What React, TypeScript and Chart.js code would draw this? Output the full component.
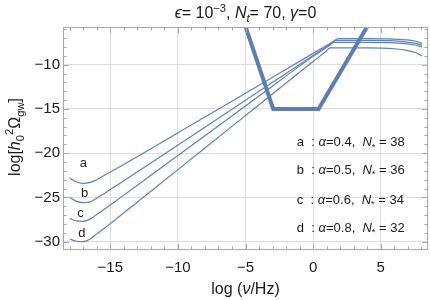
import React, { useEffect, useRef } from "react";
import { Chart, registerables } from "chart.js";
Chart.register(...registerables);

const xTicks = [-15, -10, -5, 0, 5];
const yTicks = [-30, -25, -20, -15, -10];

const curveA: [number, number][] = [
  [-18, -22.8], [-17.5, -23.25], [-17, -23.4], [-16.5, -23.3], [-16, -23.0], [-15.5, -22.55],
  [-15, -22.13], [-14, -21.27], [-12, -19.5], [-8, -15.91], [-4, -12.32], [0, -8.72], [1.55, -7.33],
  [1.85, -7.06], [4, -7.06], [6, -7.1], [7, -7.2], [7.6, -7.35], [8.05, -7.6],
];
const curveB: [number, number][] = [
  [-18, -25.0], [-17.5, -25.45], [-17, -25.58], [-16.5, -25.5], [-16, -25.08], [-15.5, -24.6],
  [-15, -24.11], [-14, -23.11], [-12, -21.1], [-8, -17.06], [-4, -13.01], [0, -8.97], [1.4, -7.55],
  [1.7, -7.25], [4, -7.25], [6, -7.3], [7, -7.45], [7.6, -7.6], [8.05, -7.8],
];
const curveC: [number, number][] = [
  [-18, -27.4], [-17.5, -27.65], [-17, -27.7], [-16.5, -27.45], [-16, -26.92], [-15.5, -26.4],
  [-15, -25.85], [-14, -24.74], [-12, -22.5], [-8, -18.02], [-4, -13.54], [0, -9.06], [1.2, -7.84],
  [1.5, -7.48], [4, -7.48], [6, -7.53], [7, -7.65], [7.6, -7.8], [8.05, -8.0],
];
const curveD: [number, number][] = [
  [-18, -29.7], [-17.5, -29.95], [-17, -30.0], [-16.5, -29.7], [-16, -29.12], [-15.5, -28.55],
  [-15, -27.96], [-14, -26.74], [-12, -24.3], [-8, -19.41], [-4, -14.53], [0, -9.64], [0.96, -8.47],
  [1.26, -8.1], [4, -8.1], [6, -8.2], [7, -8.4], [7.6, -8.65], [8.05, -9.0],
];
const thickX = [-5.37, -2.95, 0.4, 4.66];
const thickY = [-4, -15, -15, -4];

const curveNames = ["a", "b", "c", "d"];
const curveLabelX = [-17.0, -16.9, -17.2, -17.1];
const curveLabelY = [-21.05, -24.45, -26.7, -29.0];
const alphas = ["0.4", "0.5", "0.6", "0.8"];
const nStars = ["38", "36", "34", "32"];
const legendX = -1.2;
const legendY = [-18.7, -21.8, -25.2, -28.4];

const FAM = "'Liberation Sans', Arial, Helvetica, sans-serif";
const BLUE = "#5e81b5";
const FRAME = "#a8a8a8";
const GRID = "#dedede";

type Seg = { t: string; i?: boolean; s?: "sub" | "sup" };

function drawRich(ctx: CanvasRenderingContext2D, segs: Seg[], x: number, y: number, size: number, align: "left" | "center") {
  const fontOf = (s: Seg) => `${s.i ? "italic " : ""}${s.s ? size * 0.7 : size}px ${FAM}`;
  const widths = segs.map((s) => {
    ctx.font = fontOf(s);
    return ctx.measureText(s.t).width;
  });
  const total = widths.reduce((p, c) => p + c, 0);
  let cx = align === "center" ? x - total / 2 : x;
  ctx.textBaseline = "alphabetic";
  ctx.textAlign = "left";
  segs.forEach((s, k) => {
    ctx.font = fontOf(s);
    const dy = s.s === "sub" ? size * 0.25 : s.s === "sup" ? -size * 0.42 : 0;
    ctx.fillText(s.t, cx, y + dy);
    cx += widths[k];
  });
}

const fmt = (v: number) => (v < 0 ? "\u2212" + Math.abs(v) : String(v));

const decor = {
  id: "decor",
  afterDraw(chart: any) {
    const { ctx, chartArea: a, scales } = chart;
    const xs = scales.x;
    const ys = scales.y;
    ctx.save();
    ctx.strokeStyle = FRAME;
    ctx.lineWidth = 1;
    ctx.strokeRect(a.left + 0.5, a.top + 0.5, a.right - a.left - 1, a.bottom - a.top - 1);
    ctx.beginPath();
    for (let v = Math.ceil(xs.min); v <= xs.max; v++) {
      const px = Math.round(xs.getPixelForValue(v)) + 0.5;
      const len = xTicks.includes(v) ? 6 : 3.5;
      ctx.moveTo(px, a.bottom);
      ctx.lineTo(px, a.bottom - len);
      ctx.moveTo(px, a.top);
      ctx.lineTo(px, a.top + len);
    }
    for (let v = Math.ceil(ys.min); v <= ys.max; v++) {
      const py = Math.round(ys.getPixelForValue(v)) + 0.5;
      const len = yTicks.includes(v) ? 6 : 3.5;
      ctx.moveTo(a.left, py);
      ctx.lineTo(a.left + len, py);
      ctx.moveTo(a.right, py);
      ctx.lineTo(a.right - len, py);
    }
    ctx.stroke();

    ctx.fillStyle = "#1a1a1a";
    drawRich(ctx, [
      { t: "\u03f5", i: true }, { t: "= 10" }, { t: "\u22123", s: "sup" }, { t: ", " },
      { t: "N", i: true }, { t: "t", i: true, s: "sub" }, { t: "= 70, " }, { t: "\u03b3", i: true }, { t: "=0" },
    ], (a.left + a.right) / 2, 18.3, 16, "center");
    drawRich(ctx, [{ t: "log (" }, { t: "\u03bd", i: true }, { t: "/Hz)" }], (a.left + a.right) / 2, 294, 16, "center");
    ctx.save();
    ctx.translate(20, 137);
    ctx.rotate(-Math.PI / 2);
    drawRich(ctx, [
      { t: "log[" }, { t: "h", i: true }, { t: "0", s: "sub" }, { t: "2", s: "sup" }, { t: "\u03a9" },
      { t: "gw", s: "sub" }, { t: "]" },
    ], 0, 0, 16, "center");
    ctx.restore();

    ctx.font = `13px ${FAM}`;
    ctx.textAlign = "center";
    ctx.textBaseline = "alphabetic";
    curveNames.forEach((n, k) => {
      ctx.fillText(n, xs.getPixelForValue(curveLabelX[k]), ys.getPixelForValue(curveLabelY[k]) + 4.5);
    });
    curveNames.forEach((n, k) => {
      drawRich(ctx, [
        { t: n + "  : " }, { t: "\u03b1", i: true }, { t: "=" + alphas[k] + ",  " },
        { t: "N", i: true }, { t: "*", s: "sub" }, { t: " = " + nStars[k] },
      ], xs.getPixelForValue(legendX), ys.getPixelForValue(legendY[k]) + 4.7, 13, "left");
    });
    ctx.restore();
  },
};

export default function App() {
  const ref = useRef<HTMLCanvasElement | null>(null);
  useEffect(() => {
    if (!ref.current) return;
    const thin = (pts: [number, number][]) => ({
      data: pts.map(([x, y]) => ({ x, y })),
      borderColor: BLUE,
      borderWidth: 1.2,
      pointRadius: 0,
      fill: false,
      cubicInterpolationMode: "monotone" as const,
    });
    const chart = new Chart(ref.current, {
      type: "line",
      data: {
        datasets: [
          thin(curveA), thin(curveB), thin(curveC), thin(curveD),
          {
            data: thickX.map((x, k) => ({ x, y: thickY[k] })),
            borderColor: "#5b7eb8",
            borderWidth: 4,
            pointRadius: 0,
            fill: false,
            tension: 0,
            borderJoinStyle: "miter",
          } as any,
        ],
      },
      options: {
        animation: false,
        responsive: false,
        events: [],
        layout: { padding: { top: 27, right: 2, left: 0, bottom: 0 } },
        plugins: { legend: { display: false }, tooltip: { enabled: false } },
        scales: {
          x: {
            type: "linear",
            min: -18.5,
            max: 8.5,
            afterBuildTicks: (s: any) => { s.ticks = xTicks.map((v) => ({ value: v })); },
            afterFit: (s: any) => { s.height = 50; },
            grid: { color: GRID, drawTicks: false, lineWidth: 1 },
            border: { display: false },
            ticks: { callback: (v: any) => fmt(Number(v)), color: "#1a1a1a", font: { family: FAM, size: 15 }, padding: 9, maxRotation: 0, autoSkip: false },
          },
          y: {
            type: "linear",
            min: -30.94,
            max: -5.74,
            afterBuildTicks: (s: any) => { s.ticks = yTicks.map((v) => ({ value: v })); },
            afterFit: (s: any) => { s.width = 63; },
            grid: { color: GRID, drawTicks: false, lineWidth: 1 },
            border: { display: false },
            ticks: { callback: (v: any) => fmt(Number(v)), color: "#1a1a1a", font: { family: FAM, size: 15 }, padding: 3, autoSkip: false },
          },
        },
      },
      plugins: [decor],
    });
    return () => chart.destroy();
  }, []);
  return (
    <div style={{ position: "absolute", left: 0, top: 0, width: 430, height: 300, background: "#fff" }}>
      <canvas ref={ref} width={430} height={300} style={{ display: "block" }} />
    </div>
  );
}
